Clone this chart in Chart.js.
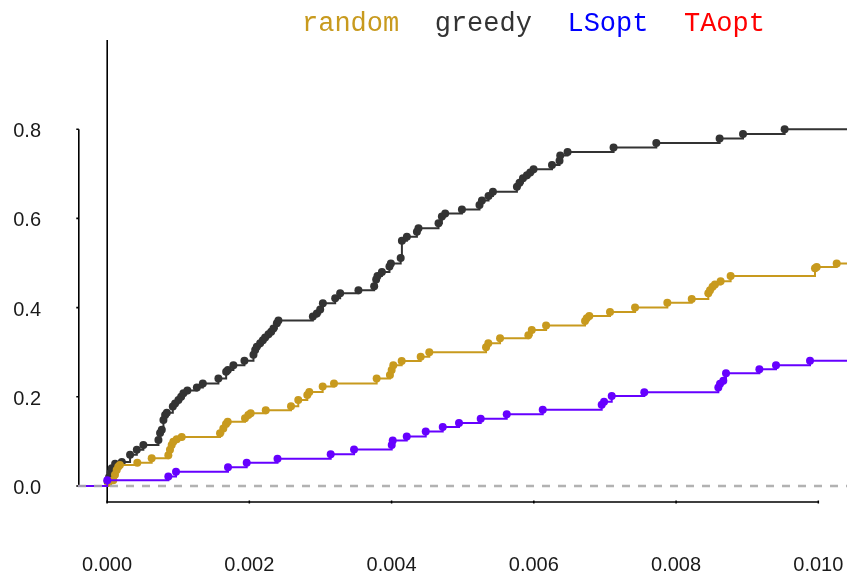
<!DOCTYPE html>
<html><head><meta charset="utf-8">
<script src="https://cdn.jsdelivr.net/npm/chart.js@4.4.1/dist/chart.umd.min.js"></script>
<style>html,body{margin:0;padding:0;background:#fff;}canvas{display:block;}</style>
</head><body>
<canvas id="c" width="847" height="579"></canvas>
<script>
// ---- data ----
const seriesNames = ['random', 'greedy', 'LSopt', 'TAopt'];
const legendColors = ['#c89a1e', '#333333', '#0000ff', '#ff0000'];
const xTicks = [0, 0.002, 0.004, 0.006, 0.008, 0.010];
const yTicks = [0, 0.2, 0.4, 0.6, 0.8];

const randomX = [0.00002,0.000087,0.000111,0.000135,0.000157,0.00018,0.000425,0.000627,0.000861,0.000884,0.000908,0.000931,0.000979,0.001049,0.001588,0.001634,0.001672,0.001696,0.001939,0.001986,0.002019,0.002231,0.002586,0.002688,0.002815,0.002843,0.003031,0.00319,0.00379,0.003977,0.004001,0.004024,0.004142,0.004409,0.00453,0.005328,0.00536,0.005525,0.005923,0.005971,0.006172,0.00672,0.006744,0.00678,0.007071,0.007423,0.007877,0.00822,0.008453,0.008477,0.008513,0.008546,0.008626,0.008767,0.009953,0.009977,0.010258];
const randomY = [0.007,0.013,0.025,0.036,0.043,0.047,0.052,0.062,0.069,0.081,0.092,0.099,0.105,0.11,0.118,0.129,0.139,0.144,0.152,0.159,0.163,0.17,0.179,0.193,0.204,0.211,0.223,0.23,0.241,0.249,0.26,0.271,0.28,0.29,0.3,0.311,0.32,0.331,0.338,0.35,0.36,0.37,0.376,0.381,0.39,0.4,0.411,0.419,0.432,0.439,0.447,0.452,0.459,0.471,0.488,0.491,0.499];

const greedyX = [0.000007,0.000028,0.00005,0.000066,0.000113,0.000207,0.000323,0.000418,0.00051,0.000722,0.000745,0.000769,0.000792,0.000816,0.00084,0.000924,0.000956,0.001003,0.001041,0.001073,0.001129,0.001262,0.001346,0.001565,0.001674,0.001698,0.001776,0.001931,0.002058,0.002082,0.002105,0.002152,0.00219,0.002222,0.002269,0.002307,0.002339,0.002387,0.002409,0.002893,0.002949,0.002996,0.003034,0.003207,0.003277,0.003534,0.003755,0.003783,0.003802,0.003864,0.00397,0.00399,0.004128,0.004145,0.004215,0.004356,0.004378,0.00466,0.004707,0.004754,0.004989,0.005236,0.00527,0.005363,0.005425,0.005762,0.005799,0.005847,0.005903,0.005949,0.005996,0.006255,0.006361,0.006371,0.006474,0.007121,0.007722,0.008612,0.008941,0.009526];
const greedyY = [0.01,0.02,0.03,0.04,0.05,0.054,0.07,0.081,0.092,0.103,0.119,0.126,0.148,0.159,0.164,0.178,0.185,0.193,0.2,0.208,0.214,0.221,0.23,0.241,0.256,0.26,0.271,0.281,0.294,0.305,0.312,0.32,0.327,0.333,0.34,0.346,0.353,0.365,0.371,0.38,0.387,0.396,0.41,0.421,0.432,0.439,0.448,0.463,0.471,0.48,0.492,0.499,0.511,0.55,0.559,0.57,0.578,0.589,0.604,0.611,0.62,0.63,0.64,0.65,0.66,0.671,0.68,0.69,0.697,0.703,0.71,0.72,0.729,0.741,0.749,0.759,0.769,0.779,0.789,0.8];

const lsoptX = [0.000003,0.000861,0.000969,0.0017,0.001963,0.002396,0.003144,0.003472,0.004002,0.004016,0.004213,0.00448,0.004719,0.004948,0.005253,0.005619,0.006125,0.006954,0.006987,0.007095,0.007553,0.008594,0.008618,0.008664,0.008702,0.009171,0.009405,0.009883];
const lsoptY = [0.013,0.021,0.032,0.042,0.052,0.061,0.071,0.082,0.092,0.102,0.111,0.122,0.132,0.141,0.151,0.161,0.171,0.182,0.189,0.202,0.21,0.221,0.229,0.236,0.253,0.262,0.271,0.281];

// ---- view ----
const X_MIN = -0.000409, X_MAX = 0.010403;
const Y_MIN = -0.0359, Y_MAX = 1.0;
const lineColors = {random: '#c89a1e', greedy: '#333333', LSopt: '#6600ff'};

function stepData(xs, ys) {
  const pts = [{x: X_MIN, y: 0}];
  xs.forEach((x, i) => pts.push({x: x, y: ys[i]}));
  pts.push({x: X_MAX, y: ys[ys.length - 1]});
  return pts;
}
function makeSet(label, xs, ys, order) {
  const c = lineColors[label];
  return {
    label: label, data: stepData(xs, ys), order: order,
    showLine: true, stepped: 'before',
    borderColor: c, backgroundColor: c, borderWidth: 2,
    pointRadius: (ctx) => (ctx.dataIndex === 0 || ctx.dataIndex === ys.length + 1) ? 0 : 4,
    pointBorderWidth: 0, pointBackgroundColor: c
  };
}
function noPad(s) { s.paddingLeft = 0; s.paddingRight = 0; s.paddingTop = 0; s.paddingBottom = 0; }

const axisPlugin = {
  id: 'axisLines',
  beforeLayout(chart) {
    const lg = chart.legend;
    if (lg && !lg._fixed) {
      const f = lg.fit;
      lg.fit = function () { f.call(this); this.height = 40; };
      lg._fixed = true;
    }
  },
  afterLayout(chart) {
    const lg = chart.legend;
    if (lg) { lg.left = 266.5; lg.top = -12; }
  },
  beforeDatasetsDraw(chart) {
    const {ctx, chartArea: a, scales: {x, y}} = chart;
    ctx.save();
    ctx.strokeStyle = '#000'; ctx.lineWidth = 1.6; ctx.lineCap = 'butt';
    const x0 = Math.round(x.getPixelForValue(0)) + 0.2;
    ctx.beginPath(); ctx.moveTo(x0, a.top); ctx.lineTo(x0, a.bottom + 0.8); ctx.stroke();
    const yl = a.left + 0.8;
    ctx.beginPath();
    ctx.moveTo(yl, y.getPixelForValue(yTicks[0]));
    ctx.lineTo(yl, y.getPixelForValue(yTicks[yTicks.length - 1]));
    yTicks.forEach(v => { const p = y.getPixelForValue(v); ctx.moveTo(yl - 2.5, p); ctx.lineTo(yl, p); });
    ctx.stroke();
    const xb = a.bottom;
    ctx.lineWidth = 1.5;
    ctx.beginPath();
    ctx.moveTo(x.getPixelForValue(xTicks[0]), xb);
    ctx.lineTo(x.getPixelForValue(xTicks[xTicks.length - 1]), xb);
    xTicks.forEach(v => { const p = x.getPixelForValue(v); ctx.moveTo(p, xb - 1.5); ctx.lineTo(p, xb + 1.5); });
    ctx.stroke();
    ctx.restore();
  },
  afterDatasetsDraw(chart) {
    const {ctx, chartArea: a, scales: {y}} = chart;
    ctx.save();
    ctx.strokeStyle = 'rgba(170,170,170,0.9)'; ctx.lineWidth = 2.4; ctx.setLineDash([8, 8]);
    const p = y.getPixelForValue(0);
    ctx.beginPath(); ctx.moveTo(a.left, p); ctx.lineTo(a.right, p); ctx.stroke();
    ctx.restore();
  }
};

new Chart(document.getElementById('c'), {
  type: 'scatter',
  data: {
    datasets: [
      makeSet('random', randomX, randomY, 1),
      makeSet('greedy', greedyX, greedyY, 2),
      makeSet('LSopt', lsoptX, lsoptY, 0)
    ]
  },
  options: {
    responsive: false, animation: false,
    layout: {padding: 0},
    plugins: {
      tooltip: {enabled: false},
      legend: {
        display: true, position: 'top', align: 'start',
        labels: {
          boxWidth: 0, boxHeight: 0, padding: 22,
          font: {family: "'Liberation Mono', 'Courier New', monospace", size: 27},
          generateLabels: () => seriesNames.map((n, i) => ({
            text: n, fontColor: legendColors[i], fillStyle: 'rgba(0,0,0,0)',
            strokeStyle: 'rgba(0,0,0,0)', lineWidth: 0, hidden: false, datasetIndex: i
          }))
        }
      }
    },
    scales: {
      x: {
        type: 'linear', min: X_MIN, max: X_MAX,
        grid: {display: false, drawTicks: false}, border: {display: false},
        afterBuildTicks: (s) => { s.ticks = xTicks.map(v => ({value: v})); },
        afterFit: (s) => { s.height = 77; noPad(s); },
        ticks: {
          padding: 51.5, color: '#1a1a1a', maxRotation: 0, autoSkip: false,
          font: {family: "'Liberation Sans', Arial, sans-serif", size: 20},
          callback: (v) => v.toFixed(3)
        }
      },
      y: {
        type: 'linear', min: Y_MIN, max: Y_MAX,
        grid: {display: false, drawTicks: false}, border: {display: false},
        afterBuildTicks: (s) => { s.ticks = yTicks.map(v => ({value: v})); },
        afterFit: (s) => { s.width = 78; noPad(s); },
        ticks: {
          padding: 37, color: '#1a1a1a', labelOffset: 2.5, autoSkip: false,
          font: {family: "'Liberation Sans', Arial, sans-serif", size: 20},
          callback: (v) => v.toFixed(1)
        }
      }
    }
  },
  plugins: [axisPlugin]
});
</script>
</body></html>
